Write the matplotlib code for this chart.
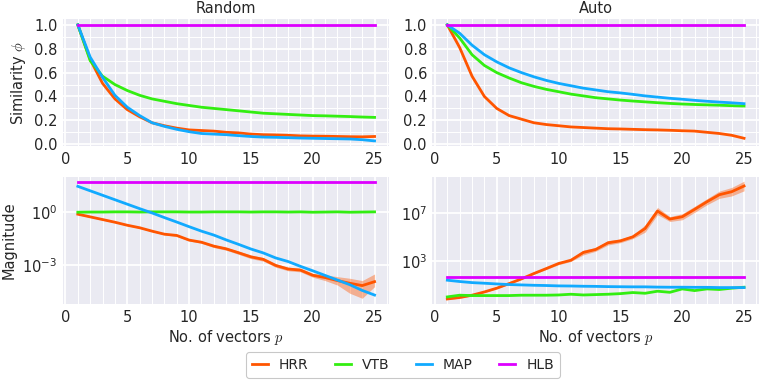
import numpy as np
import matplotlib
matplotlib.use("Agg")
import matplotlib.pyplot as plt
from matplotlib.ticker import MultipleLocator, FixedLocator, LogFormatterMathtext, NullLocator

# ---- data ------------------------------------------------------------------
p = np.arange(1, 26)

# Similarity phi, random vectors
sim_rand_hrr = [1.0, 0.71, 0.51, 0.38, 0.29, 0.23, 0.18, 0.155, 0.135, 0.12, 0.115, 0.11, 0.10,
                0.095, 0.085, 0.08, 0.078, 0.075, 0.07, 0.068, 0.067, 0.065, 0.063, 0.062, 0.065]
sim_rand_vtb = [1.0, 0.70, 0.57, 0.50, 0.45, 0.41, 0.38, 0.36, 0.34, 0.325, 0.31, 0.30, 0.29,
                0.28, 0.27, 0.26, 0.255, 0.25, 0.245, 0.24, 0.238, 0.235, 0.232, 0.228, 0.225]
sim_rand_map = [1.0, 0.73, 0.56, 0.41, 0.31, 0.24, 0.18, 0.15, 0.125, 0.105, 0.09, 0.085, 0.08,
                0.072, 0.065, 0.06, 0.058, 0.055, 0.052, 0.05, 0.048, 0.046, 0.044, 0.038, 0.028]
sim_rand_hlb = [1.0] * 25

# Similarity phi, auto (self-bound) vectors
sim_auto_hrr = [1.0, 0.81, 0.57, 0.40, 0.30, 0.24, 0.21, 0.18, 0.165, 0.155, 0.145, 0.14, 0.135,
                0.13, 0.128, 0.125, 0.122, 0.12, 0.117, 0.113, 0.11, 0.10, 0.09, 0.075, 0.05]
sim_auto_vtb = [1.0, 0.89, 0.75, 0.66, 0.60, 0.555, 0.515, 0.485, 0.46, 0.44, 0.42, 0.405, 0.39,
                0.38, 0.37, 0.362, 0.355, 0.348, 0.342, 0.337, 0.333, 0.33, 0.327, 0.323, 0.32]
sim_auto_map = [1.0, 0.93, 0.83, 0.75, 0.69, 0.64, 0.60, 0.565, 0.535, 0.51, 0.49, 0.47, 0.455,
                0.44, 0.43, 0.418, 0.405, 0.395, 0.385, 0.377, 0.368, 0.36, 0.353, 0.347, 0.34]
sim_auto_hlb = [1.0] * 25

# Magnitude, log10 values
mag_rand_hrr = [-0.13, -0.28, -0.43, -0.58, -0.75, -0.89, -1.08, -1.25, -1.32, -1.58, -1.70, -1.92, -2.07,
                -2.29, -2.52, -2.66, -3.0, -3.2, -3.26, -3.55, -3.68, -3.85, -4.0, -4.13, -3.91]
mag_rand_hrr_lo = [-0.16, -0.31, -0.46, -0.61, -0.78, -0.92, -1.11, -1.29, -1.38, -1.63, -1.76, -2.0, -2.15,
                   -2.38, -2.62, -2.76, -3.1, -3.3, -3.36, -3.66, -3.85, -4.1, -4.56, -4.84, -4.19]
mag_rand_hrr_hi = [-0.10, -0.25, -0.40, -0.55, -0.72, -0.86, -1.05, -1.21, -1.26, -1.53, -1.64, -1.84, -1.99,
                   -2.20, -2.42, -2.56, -2.9, -3.1, -3.16, -3.45, -3.53, -3.63, -3.72, -3.85, -3.48]
mag_rand_vtb = [-0.02, -0.01, -0.01, 0.0, 0.0, -0.01, 0.0, 0.0, 0.0, -0.01, -0.01, 0.0, 0.0,
                0.0, -0.01, 0.0, 0.0, -0.01, 0.0, -0.02, -0.01, 0.0, -0.02, -0.01, 0.0]
mag_rand_map = [1.43, 1.18, 0.93, 0.68, 0.43, 0.18, -0.06, -0.32, -0.57, -0.83, -1.08, -1.30, -1.57,
                -1.82, -2.08, -2.30, -2.58, -2.78, -3.05, -3.30, -3.56, -3.82, -4.08, -4.40, -4.66]
mag_rand_hlb = [1.67] * 25

mag_auto_hrr = [-0.12, 0.0, 0.19, 0.46, 0.77, 1.15, 1.54, 1.98, 2.39, 2.81, 3.08, 3.72, 3.97,
                4.52, 4.68, 5.01, 5.70, 7.14, 6.48, 6.67, 7.28, 7.91, 8.49, 8.74, 9.21]
mag_auto_hrr_err = [0.05, 0.05, 0.05, 0.05, 0.05, 0.05, 0.05, 0.05, 0.08, 0.1, 0.1, 0.2, 0.15,
                    0.18, 0.15, 0.15, 0.3, 0.3, 0.2, 0.25, 0.25, 0.25, 0.3, 0.35, 0.4]
mag_auto_vtb = [0.05, 0.19, 0.16, 0.16, 0.16, 0.16, 0.19, 0.19, 0.19, 0.21, 0.27, 0.21, 0.24,
                0.27, 0.32, 0.41, 0.35, 0.52, 0.43, 0.71, 0.57, 0.71, 0.66, 0.77, 0.85]
mag_auto_map = [1.43, 1.32, 1.23, 1.18, 1.12, 1.07, 1.04, 1.01, 0.99, 0.96, 0.95, 0.93, 0.92,
                0.90, 0.89, 0.88, 0.88, 0.86, 0.85, 0.85, 0.84, 0.84, 0.82, 0.82, 0.82]
mag_auto_hlb = [1.67] * 25

NAMES = ["HRR", "VTB", "MAP", "HLB"]
COLOURS = {"HRR": "#ff5500", "VTB": "#33ee11", "MAP": "#11aaff", "HLB": "#dd00ff"}

# ---- style -----------------------------------------------------------------
plt.rcParams.update({
    "font.family": ["DejaVu Sans"],
    "mathtext.fontset": "cm",
    "font.size": 10,
    "axes.facecolor": "#eaeaf2",
    "axes.edgecolor": "white",
    "axes.labelcolor": "#262626",
    "xtick.color": "#262626",
    "ytick.color": "#262626",
    "text.color": "#262626",
})

fig, axes = plt.subplots(2, 2, figsize=(7.72, 3.86), dpi=100)
fig.subplots_adjust(left=0.0816, right=0.983, top=0.951, bottom=0.212,
                    wspace=0.132, hspace=0.244)


def style(ax, log=False):
    for s in ax.spines.values():
        s.set_visible(False)
    ax.tick_params(which="both", length=0, labelsize=10.5, pad=4)
    ax.xaxis.set_major_locator(MultipleLocator(5))
    ax.xaxis.set_minor_locator(MultipleLocator(1))
    ax.grid(which="major", color="white", lw=1.3)
    ax.grid(which="minor", axis="x", color="white", lw=0.7)
    if not log:
        ax.yaxis.set_major_locator(MultipleLocator(0.2))
        ax.yaxis.set_minor_locator(MultipleLocator(0.1))
        ax.grid(which="minor", axis="y", color="white", lw=0.7)
    ax.set_axisbelow(True)


top = [(axes[0, 0], [sim_rand_hrr, sim_rand_vtb, sim_rand_map, sim_rand_hlb]),
       (axes[0, 1], [sim_auto_hrr, sim_auto_vtb, sim_auto_map, sim_auto_hlb])]
for ax, series in top:
    for name, vals in zip(NAMES, series):
        ax.plot(p, vals, color=COLOURS[name], lw=2, label=name)
    style(ax)
    ax.set_xlim(-0.2, 26.2)
    ax.set_ylim(-0.015, 1.05)

axes[0, 0].set_title("Random", fontsize=10.5, pad=4)
axes[0, 1].set_title("Auto", fontsize=10.5, pad=4)
axes[0, 0].set_ylabel(r"Similarity $\phi$", fontsize=10.5)

# bottom-left: random magnitudes
ax = axes[1, 0]
ax.fill_between(p, 10 ** np.array(mag_rand_hrr_lo), 10 ** np.array(mag_rand_hrr_hi),
                color=COLOURS["HRR"], alpha=0.4, lw=0)
for name, vals in zip(NAMES, [mag_rand_hrr, mag_rand_vtb, mag_rand_map, mag_rand_hlb]):
    ax.plot(p, 10 ** np.array(vals), color=COLOURS[name], lw=2)
ax.set_yscale("log")
ax.yaxis.set_major_locator(FixedLocator([1e-3, 1e0]))
ax.yaxis.set_major_formatter(LogFormatterMathtext())
ax.yaxis.set_minor_locator(NullLocator())
style(ax, log=True)
ax.set_xlim(-0.2, 26.2)
ax.set_ylim(10 ** -5.17, 10 ** 1.95)
ax.set_ylabel("Magnitude", fontsize=10.5)

# bottom-right: auto magnitudes
ax = axes[1, 1]
hrr = np.array(mag_auto_hrr)
err = np.array(mag_auto_hrr_err)
ax.fill_between(p, 10 ** (hrr - err), 10 ** (hrr + err), color=COLOURS["HRR"], alpha=0.4, lw=0)
for name, vals in zip(NAMES, [mag_auto_hrr, mag_auto_vtb, mag_auto_map, mag_auto_hlb]):
    ax.plot(p, 10 ** np.array(vals), color=COLOURS[name], lw=2)
ax.set_yscale("log")
ax.yaxis.set_major_locator(FixedLocator([1e3, 1e7]))
ax.yaxis.set_major_formatter(LogFormatterMathtext())
ax.yaxis.set_minor_locator(NullLocator())
style(ax, log=True)
ax.set_xlim(-0.2, 26.2)
ax.set_ylim(10 ** -0.55, 10 ** 9.95)

for ax in axes[1]:
    ax.set_xlabel(r"No. of vectors $p$", fontsize=10.5, labelpad=2)

handles, labels = axes[0, 0].get_legend_handles_labels()
leg = fig.legend(handles, labels, loc="lower center", ncol=4, bbox_to_anchor=(0.522, 0.004),
                 fontsize=10, handlelength=1.15, handletextpad=0.8, columnspacing=1.9,
                 frameon=True, fancybox=True, edgecolor="#bbbbbb", facecolor="white",
                 borderpad=0.4)
leg.get_frame().set_linewidth(0.8)

fig.savefig("out.png", dpi=100)
